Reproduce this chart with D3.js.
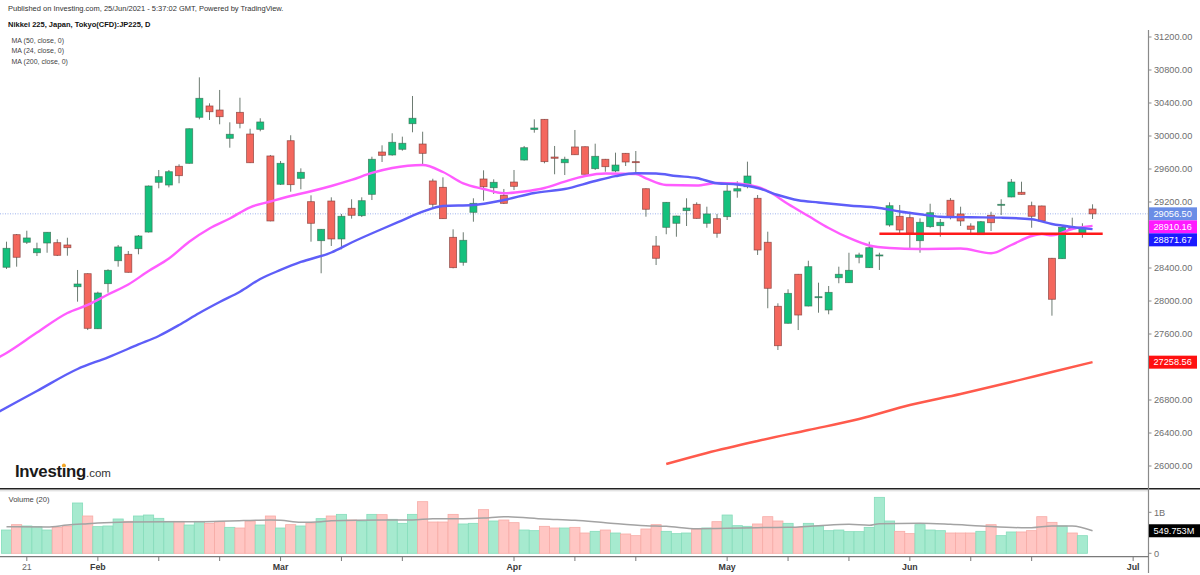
<!DOCTYPE html>
<html><head><meta charset="utf-8">
<script src="https://cdn.jsdelivr.net/npm/d3@7"></script>
<style>
body{margin:0;background:#fff}
svg{display:block}
text{font-family:"Liberation Sans",Arial,Helvetica,sans-serif}
</style>
</head><body>
<svg id="c" width="1200" height="575"></svg>
<script>
// ---------------- DATA ----------------
const dates = [
"2021-01-19","2021-01-20","2021-01-21","2021-01-22","2021-01-25","2021-01-26","2021-01-27","2021-01-28","2021-01-29",
"2021-02-01","2021-02-02","2021-02-03","2021-02-04","2021-02-05","2021-02-08","2021-02-09","2021-02-10","2021-02-12","2021-02-15","2021-02-16","2021-02-17","2021-02-18","2021-02-19","2021-02-22","2021-02-24","2021-02-25","2021-02-26",
"2021-03-01","2021-03-02","2021-03-03","2021-03-04","2021-03-05","2021-03-08","2021-03-09","2021-03-10","2021-03-11","2021-03-12","2021-03-15","2021-03-16","2021-03-17","2021-03-18","2021-03-19","2021-03-22","2021-03-23","2021-03-24","2021-03-25","2021-03-26","2021-03-29","2021-03-30","2021-03-31",
"2021-04-01","2021-04-02","2021-04-05","2021-04-06","2021-04-07","2021-04-08","2021-04-09","2021-04-12","2021-04-13","2021-04-14","2021-04-15","2021-04-16","2021-04-19","2021-04-20","2021-04-21","2021-04-22","2021-04-23","2021-04-26","2021-04-27","2021-04-28","2021-04-30",
"2021-05-06","2021-05-07","2021-05-10","2021-05-11","2021-05-12","2021-05-13","2021-05-14","2021-05-17","2021-05-18","2021-05-19","2021-05-20","2021-05-21","2021-05-24","2021-05-25","2021-05-26","2021-05-27","2021-05-28","2021-05-31",
"2021-06-01","2021-06-02","2021-06-03","2021-06-04","2021-06-07","2021-06-08","2021-06-09","2021-06-10","2021-06-11","2021-06-14","2021-06-15","2021-06-16","2021-06-17","2021-06-18","2021-06-21","2021-06-22","2021-06-23","2021-06-24","2021-06-25"
];
const futureDates = ["2021-06-28","2021-06-29","2021-06-30","2021-07-01"];

const open = [28409,28804,28712,28585,28703,28707,28679,28173,28331,27664,
28210,28488,28566,28634,28836,29439,29406,29633,29669,30227,
30364,30315,29972,30287,30024,30081,29758,29415,29943,29487,
29204,28731,29212,28752,29124,29034,29293,29806,29770,29839,
30149,29903,29455,29378,28772,28469,29075,29479,29373,29281,
29442,29709,30079,30202,29745,29676,29867,29870,29604,29718,
29576,29790,29689,29361,28667,28893,28942,29095,29172,28942,
28998,29022,29333,29385,29245,28712,27936,27730,28324,27939,
28040,27891,28282,28222,28530,28404,28549,28921,29027,29010,
28731,28901,28913,29221,29055,28909,28804,29039,29160,29261,
29318,29155,29152,28518,28513,28888,28821,29115];
const high = [28719,28812,28852,28707,28835,28748,28767,28376,28335,28113,
28384,28679,28606,28800,29400,29588,29588,29657,30092,30711,
30396,30558,30166,30464,30088,30215,29770,29697,30009,29608,
29281,28872,29257,29055,29233,29257,29749,29887,30033,29992,
30485,30052,29482,29499,28869,28833,29245,29584,29475,29358,
29588,29879,30202,30206,29879,29749,30073,29874,29907,29722,
29798,29794,29818,29365,28788,29200,29034,29245,29196,29143,
29055,29434,29451,29689,29285,28840,27972,28142,28328,28488,
28222,28182,28416,28585,28585,28719,28585,29196,29164,29082,
29002,29179,28994,29248,29143,28942,28970,29082,29233,29479,
29446,29204,29156,28522,28897,29010,28942,29172];
const low = [28388,28416,28691,28545,28585,28545,28549,27992,27648,27660,
28101,28416,28345,28566,28830,29366,29378,29427,29665,30202,
30194,30142,29858,30093,29672,30057,28966,29406,29325,29354,
28719,28336,28667,28627,28998,29018,29224,29685,29761,29822,
30045,29636,29124,28995,28396,28428,28961,29216,29297,29176,
29345,29701,30040,29669,29536,29527,29770,29532,29588,29567,
29560,29636,29548,29022,28436,28809,28779,28909,28998,28888,
28767,28982,29252,29366,28558,27912,27406,27726,27648,27935,
27858,27839,28215,28218,28457,28400,28376,28901,28812,28618,
28585,28888,28779,28990,28909,28821,28800,28848,29042,29257,
29290,28888,28966,27822,28509,28873,28767,28994];
const close = [28639,28530,28764,28634,28833,28554,28646,28206,27669,28097,
28372,28655,28348,28788,29394,29507,29567,29519,30088,30457,
30294,30234,30021,30154,29676,30170,28970,29669,29410,29560,
28942,28869,28752,29027,29039,29216,29718,29766,29924,29912,
30215,29790,29172,28998,28404,28736,29184,29385,29439,29184,
29390,29858,30097,29689,29730,29718,29773,29536,29754,29628,
29648,29685,29681,29112,28518,29196,29030,29127,29002,29055,
28821,29333,29361,29515,28618,28154,27458,28093,27830,28416,
28052,28105,28324,28372,28558,28646,28558,29155,28861,28821,
28954,29070,28954,29015,28970,28869,28961,28949,29172,29442,
29293,29027,28970,28021,28893,28876,28885,29056.5];
// volume in millions (last session not yet shown)
const volume = [568,698,666,650,568,633,666,1227,910,650,
666,837,780,910,934,853,780,780,690,780,
731,771,633,617,788,690,910,617,698,666,
739,845,910,950,812,780,950,942,829,731,
950,1259,763,763,950,715,731,1064,788,812,
747,568,552,658,617,617,633,495,536,568,
495,471,430,593,698,536,479,495,593,617,
771,934,674,658,715,893,788,731,633,731,
666,552,568,528,528,633,1365,788,536,479,
698,568,552,495,495,495,536,698,430,520,
520,552,893,755,666,495,430,null];

// moving averages: [bar index, value]
const ma50 = [[-1,26642],[3,26909],[7,27176],[10,27317],[13,27473],[15,27576],[17,27709],[19,27855],[21,27988],[23,28113],[25,28267],[27,28376],[29,28473],[32,28588],[34,28709],[37,28873],[39,28978],[41,29082],[43,29152],[46,29164],[49,29224],[52,29309],[55,29358],[58,29455],[60,29513],[62,29548],[64,29545],[66,29515],[68,29491],[70,29427],[72,29412],[74,29370],[76,29285],[78,29221],[80,29194],[83,29158],[86,29127],[88,29085],[90,29051],[92,29022],[95,29015],[98,29010],[101,28991],[103,28933],[105,28897],[107,28871.67]];
const ma24 = [[-1,27300],[0,27370],[3,27617],[6,27855],[8,27952],[10,28079],[12,28200],[14,28364],[16,28515],[18,28718],[20,28879],[22,29000],[24,29136],[26,29206],[28,29273],[30,29330],[32,29394],[34,29467],[36,29552],[38,29612],[41,29648],[43,29564],[45,29426],[47,29358],[49,29306],[51,29327],[53,29370],[55,29448],[57,29515],[59,29545],[62,29539],[63,29487],[65,29406],[68,29400],[70,29430],[72,29424],[74,29382],[75,29333],[77,29176],[79,29030],[81,28885],[83,28764],[85,28673],[87,28642],[90,28630],[94,28636],[97,28578],[99,28679],[101,28788],[102,28812],[103,28795],[105,28873],[107,28910.16]];
const ma200 = [[65,26024],[69,26158],[74,26303],[79,26436],[84,26570],[89,26739],[94,26873],[99,27018],[103,27139],[107,27258.56]];
const volMa = [[0,650],[4,642],[6,690],[8,723],[9,739],[12,763],[16,771],[19,771],[22,788],[26,812],[27,804],[29,755],[31,771],[32,796],[37,812],[40,812],[42,845],[45,845],[47,861],[49,893],[53,837],[56,804],[59,747],[63,674],[65,658],[68,601],[71,609],[74,625],[77,633],[80,674],[83,706],[85,682],[86,723],[90,731],[93,706],[96,666],[100,625],[101,625],[103,666],[105,666],[107,549.753]];

// drawn horizontal support line
const supportLevel = 28816;
const supportFrom = 86, supportTo = 108;

const priceTicks = [26000,26400,26800,27200,27600,28000,28400,28800,29200,29600,30000,30400,30800,31200];
const volTicks = [0,1000];
const volTickLabels = ["0","1B"];
const xTickDates = ["2021-01-21","2021-02-01","2021-02-09","2021-02-18","2021-03-01","2021-03-09","2021-03-17","2021-04-01","2021-04-09","2021-04-19","2021-05-06","2021-05-14","2021-05-24","2021-06-01","2021-06-09","2021-06-17","2021-07-01"];
const xTickLabels = ["21","Feb","","","Mar","","","Apr","","","May","","","Jun","","","Jul"];

const titleLines = ["Published on Investing.com, 25/Jun/2021 - 5:37:02 GMT, Powered by TradingView.","Nikkei 225, Japan, Tokyo(CFD):JP225, D"];
const legendLines = ["MA (50, close, 0)","MA (24, close, 0)","MA (200, close, 0)"];

// ---------------- DRAW ----------------
const svg = d3.select("#c");
const allDates = dates.concat(futureDates);
const AX = 1148.5;               // right axis x
const x = d3.scaleLinear().domain([0, 111]).range([6.5, 6.5 + 111*10.15]);
const y = d3.scaleLinear().domain([26000, 31200]).range([466, 37]);
const yv = d3.scaleLinear().domain([0, 1000]).range([553.3, 512.3]);
const idx = d3.range(dates.length);
const up = i => close[i] >= open[i];

const defs = svg.append("defs");
defs.append("clipPath").attr("id","cm").append("rect").attr("x",0).attr("y",30).attr("width",AX).attr("height",458);
defs.append("clipPath").attr("id","cv").append("rect").attr("x",0).attr("y",491).attr("width",AX).attr("height",65);

// header
svg.append("text").attr("x",8).attr("y",10.5).attr("font-size",7.5).attr("fill","#333").text(titleLines[0]);
svg.append("text").attr("x",8).attr("y",26.5).attr("font-size",7.5).attr("font-weight","bold").attr("fill","#111").text(titleLines[1]);
legendLines.forEach((t,k)=>{
  svg.append("text").attr("x",11.5).attr("y",43.2 + k*10.2).attr("font-size",7).attr("fill","#444").text(t);
});

// current price dotted line
const gm = svg.append("g").attr("clip-path","url(#cm)");
gm.append("line").attr("x1",0).attr("x2",AX).attr("y1",y(close[close.length-1])).attr("y2",y(close[close.length-1]))
  .attr("stroke","#9fb3ee").attr("stroke-width",1).attr("stroke-dasharray","1,1.5");

// candles
gm.selectAll("line.wick").data(idx).join("line").attr("class","wick")
  .attr("x1",i=>x(i)).attr("x2",i=>x(i)).attr("y1",i=>y(high[i])).attr("y2",i=>y(low[i]))
  .attr("stroke","#6d7b72").attr("stroke-width",1);
gm.selectAll("rect.body").data(idx).join("rect").attr("class","body")
  .attr("x",i=>x(i)-3.5).attr("width",7)
  .attr("y",i=>y(Math.max(open[i],close[i])))
  .attr("height",i=>Math.max(1,Math.abs(y(open[i])-y(close[i]))))
  .attr("fill",i=>up(i)?"#14c17d":"#f4675d")
  .attr("stroke",i=>up(i)?"#3b6b52":"#7d3a35").attr("stroke-opacity",0.75).attr("stroke-width",0.8);

// moving averages
const line = d3.line().x(d=>x(d[0])).y(d=>y(d[1])).curve(d3.curveMonotoneX);
gm.append("path").attr("d",line(ma24)).attr("fill","none").attr("stroke","#ff5cff").attr("stroke-width",2.4);
gm.append("path").attr("d",line(ma50)).attr("fill","none").attr("stroke","#5e5ef8").attr("stroke-width",2.4);
gm.append("path").attr("d",line(ma200)).attr("fill","none").attr("stroke","#ff5a4c").attr("stroke-width",2.4);

// support line
gm.append("line").attr("x1",x(supportFrom)).attr("x2",x(supportTo)).attr("y1",y(supportLevel)).attr("y2",y(supportLevel))
  .attr("stroke","#ff1a1a").attr("stroke-width",2.6);

// Investing logo
const logo = svg.append("text").attr("x",15).attr("y",476.5).attr("fill","#1a1a1a");
logo.append("tspan").attr("font-size",16.8).attr("font-weight","bold").attr("letter-spacing",-0.3).text("Investing");
logo.append("tspan").attr("font-size",11.5).attr("fill","#333").text(".com");
try{
  const ext = logo.node().getExtentOfChar(6);
  svg.append("circle").attr("cx",ext.x+ext.width/2).attr("cy",476.5-16.8*0.66).attr("r",1.9).attr("fill","#f5a623");
}catch(e){}

// separators
svg.append("line").attr("x1",0).attr("x2",1200).attr("y1",488.8).attr("y2",488.8).attr("stroke","#222").attr("stroke-width",1.6);
svg.append("line").attr("x1",0).attr("x2",AX).attr("y1",490.8).attr("y2",490.8).attr("stroke","#d8d8d8").attr("stroke-width",1);

// volume pane
svg.append("text").attr("x",8.5).attr("y",501.5).attr("font-size",7.6).attr("fill","#444").text("Volume (20)");
const gv = svg.append("g").attr("clip-path","url(#cv)");
const vIdx = idx.filter(i=>volume[i]!=null);
gv.selectAll("rect.v").data(vIdx).join("rect").attr("class","v")
  .attr("x",i=>x(i)-5.07).attr("width",10.15)
  .attr("y",i=>yv(volume[i])).attr("height",i=>yv(0)-yv(volume[i]))
  .attr("fill",i=>up(i)?"#a6eacf":"#ffc6c3")
  .attr("stroke",i=>up(i)?"#86dcbb":"#f7aba6").attr("stroke-width",0.8);
const vline = d3.line().x(d=>x(d[0])).y(d=>yv(d[1])).curve(d3.curveMonotoneX);
gv.append("path").attr("d",vline(volMa)).attr("fill","none").attr("stroke","#a3a3a3").attr("stroke-width",1.5);

// value boxes with simple collision avoidance
const boxes = [
  {v:close[close.length-1], c:"#6a8de6"},
  {v:ma24[ma24.length-1][1], c:"#ff1aff"},
  {v:ma50[ma50.length-1][1], c:"#1a1aff"},
  {v:ma200[ma200.length-1][1], c:"#ff1010"}
].map(b=>({...b, y:y(b.v)})).sort((a,b)=>a.y-b.y);
for(let k=1;k<boxes.length;k++){ if(boxes[k].y-boxes[k-1].y<13) boxes[k].y=boxes[k-1].y+13; }

// right axis
svg.append("line").attr("x1",AX).attr("x2",AX).attr("y1",30).attr("y2",573).attr("stroke","#8a8a8a").attr("stroke-width",1.2);
const ga = svg.append("g");
priceTicks.forEach(p=>{
  ga.append("line").attr("x1",AX).attr("x2",AX+3).attr("y1",y(p)).attr("y2",y(p)).attr("stroke","#8a8a8a");
  const hidden = boxes.some(b=>Math.abs(b.y - y(p)) < 11);
  if(!hidden) ga.append("text").attr("x",1154).attr("y",y(p)+3.3).attr("font-size",9.2).attr("fill","#6e6e6e").text(d3.format(".2f")(p));
});
volTicks.forEach((v,k)=>{
  ga.append("line").attr("x1",AX).attr("x2",AX+3).attr("y1",yv(v)).attr("y2",yv(v)).attr("stroke","#8a8a8a");
  ga.append("text").attr("x",1154).attr("y",yv(v)+3.3).attr("font-size",9.2).attr("fill","#6e6e6e").text(volTickLabels[k]);
});

boxes.forEach(b=>{
  svg.append("rect").attr("x",AX+0.5).attr("y",b.y-6.5).attr("width",48).attr("height",13).attr("fill",b.c);
  svg.append("text").attr("x",1153.5).attr("y",b.y+3.3).attr("font-size",9.2).attr("fill","#fff").text(d3.format(".2f")(b.v));
});
const vLast = volMa[volMa.length-1][1];
svg.append("rect").attr("x",AX+0.5).attr("y",yv(vLast)-6.5).attr("width",51).attr("height",13).attr("fill","#000");
svg.append("text").attr("x",1153.5).attr("y",yv(vLast)+3.3).attr("font-size",9.2).attr("fill","#fff").text(d3.format(".3f")(vLast)+"M");

// bottom axis
svg.append("line").attr("x1",0).attr("x2",AX).attr("y1",556.6).attr("y2",556.6).attr("stroke","#7a7a7a").attr("stroke-width",1.3);
xTickDates.forEach((d,k)=>{
  const i = allDates.indexOf(d);
  const xx = x(i);
  svg.append("line").attr("x1",xx).attr("x2",xx).attr("y1",557).attr("y2",561).attr("stroke","#7a7a7a");
  if(xTickLabels[k]){
    const yr = xTickLabels[k]==="21";
    svg.append("text").attr("x",xx).attr("y",569.8).attr("text-anchor","middle")
      .attr("font-size",8.8).attr("font-weight",yr?"normal":"bold").attr("fill",yr?"#666":"#3a3a3a").text(xTickLabels[k]);
  }
});
</script>
</body></html>
